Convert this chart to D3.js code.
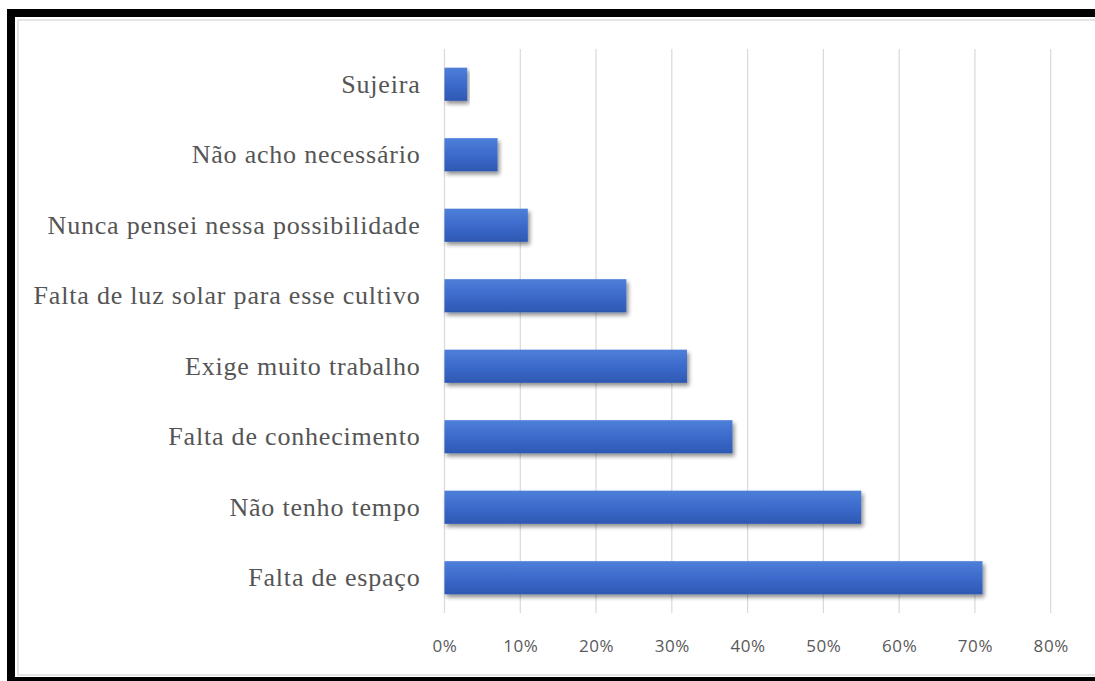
<!DOCTYPE html>
<html>
<head>
<meta charset="utf-8">
<script src="https://cdn.jsdelivr.net/npm/d3@7"></script>
<style>
  html, body { margin: 0; padding: 0; background: #fff; }
  svg { display: block; }
</style>
</head>
<body>
<svg id="chart" width="1095" height="681"></svg>
<script>
// Reasons given (top to bottom) and the share of respondents for each
const categories = [
  "Sujeira",
  "Não acho necessário",
  "Nunca pensei nessa possibilidade",
  "Falta de luz solar para esse cultivo",
  "Exige muito trabalho",
  "Falta de conhecimento",
  "Não tenho tempo",
  "Falta de espaço"
];
const values = [0.03, 0.07, 0.11, 0.24, 0.32, 0.38, 0.55, 0.71];
const tickValues = [0, 0.1, 0.2, 0.3, 0.4, 0.5, 0.6, 0.7, 0.8];

const svg = d3.select("#chart");
const W = 1095, H = 681;

const defs = svg.append("defs");
const grad = defs.append("linearGradient")
  .attr("id", "barGrad").attr("x1", 0).attr("y1", 0).attr("x2", 0).attr("y2", 1);
grad.append("stop").attr("offset", "0%").attr("stop-color", "#4e7fd8");
grad.append("stop").attr("offset", "50%").attr("stop-color", "#3c6bcc");
grad.append("stop").attr("offset", "100%").attr("stop-color", "#2d58b2");

const shadow = defs.append("filter").attr("id", "barShadow")
  .attr("x", "-5%").attr("y", "-30%").attr("width", "115%").attr("height", "180%");
shadow.append("feGaussianBlur").attr("in", "SourceAlpha").attr("stdDeviation", 2.2).attr("result", "b");
shadow.append("feOffset").attr("in", "b").attr("dx", 1.5).attr("dy", 3).attr("result", "o");
shadow.append("feComponentTransfer").attr("in", "o").attr("result", "s")
  .append("feFuncA").attr("type", "linear").attr("slope", 0.45);
const merge = shadow.append("feMerge");
merge.append("feMergeNode").attr("in", "s");
merge.append("feMergeNode").attr("in", "SourceGraphic");

// Frame
svg.append("rect").attr("x", 0).attr("y", 0).attr("width", W).attr("height", H).attr("fill", "#fff");
svg.append("rect")
  .attr("x", 18).attr("y", 20).attr("width", 1200).attr("height", 655)
  .attr("fill", "none").attr("stroke", "#dcdcdc").attr("stroke-width", 1.5);
svg.append("rect")
  .attr("x", 11).attr("y", 13).attr("width", 1200).attr("height", 668)
  .attr("fill", "none").attr("stroke", "#000").attr("stroke-width", 8);

const x = d3.scaleLinear().domain([0, 0.8]).range([444.5, 1050.7]);
const y = d3.scaleBand().domain(categories).range([49, 613]).paddingInner(0.53).paddingOuter(0.265);

// Vertical gridlines
svg.append("g").selectAll("line").data(tickValues).join("line")
  .attr("x1", d => x(d)).attr("x2", d => x(d))
  .attr("y1", 49).attr("y2", 613)
  .attr("stroke", "#d9d9d9").attr("stroke-width", 1.2);

// Value axis labels
const xAxis = d3.axisBottom(x).tickValues(tickValues).tickFormat(d3.format(".0%")).tickSize(0).tickPadding(0);
const gx = svg.append("g").attr("transform", "translate(0,652)").call(xAxis);
gx.select(".domain").remove();
gx.selectAll("text")
  .attr("dy", 0)
  .attr("font-family", "'Open Sans', sans-serif")
  .attr("font-size", 17)
  .attr("letter-spacing", 0.6)
  .attr("fill", "#595959");

// Category axis labels
const yAxis = d3.axisLeft(y).tickSize(0).tickPadding(24);
const gy = svg.append("g").attr("transform", `translate(${x(0)},0)`).call(yAxis);
gy.select(".domain").remove();
gy.selectAll("text")
  .attr("font-family", "'Liberation Serif', 'Times New Roman', serif")
  .attr("font-size", 26)
  .attr("letter-spacing", 0.8)
  .attr("fill", "#555");

// Bars
svg.append("g").selectAll("rect").data(categories).join("rect")
  .attr("x", x(0))
  .attr("y", d => y(d))
  .attr("width", (d, i) => x(values[i]) - x(0))
  .attr("height", y.bandwidth())
  .attr("fill", "url(#barGrad)")
  .attr("filter", "url(#barShadow)");
</script>
</body>
</html>
